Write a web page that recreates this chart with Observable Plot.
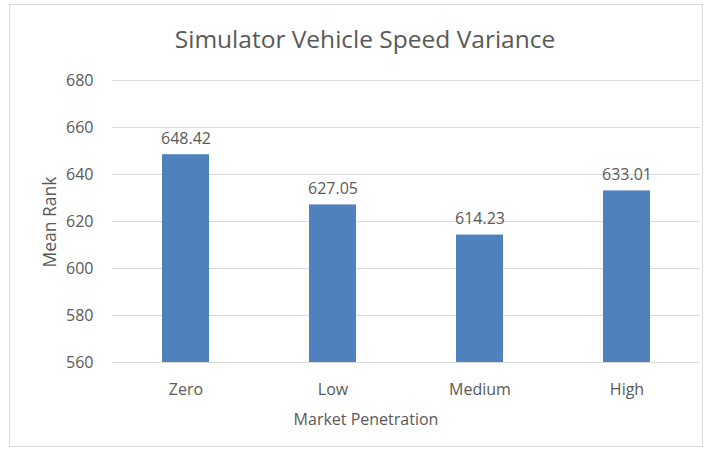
<!DOCTYPE html>
<html>
<head>
<meta charset="utf-8">
<script src="https://cdn.jsdelivr.net/npm/d3@7"></script>
<script src="https://cdn.jsdelivr.net/npm/@observablehq/plot@0.6"></script>
<style>
  html, body { margin: 0; padding: 0; background: #fff; }
  #wrap { position: relative; width: 711px; height: 452px; font-family: "Open Sans", sans-serif; overflow: hidden; color: #595959; }
  #frame { position: absolute; left: 9px; top: 4px; width: 694px; height: 443px; border: 1px solid #d9d9d9; box-sizing: border-box; }
  #title { position: absolute; left: 0; width: 730px; top: 24px; text-align: center; font-size: 24.5px; line-height: 30px; }
  #xtitle { position: absolute; left: 166px; width: 400px; top: 408px; text-align: center; font-size: 16px; line-height: 22px; }
  #ytitle { position: absolute; left: -51px; top: 211px; width: 200px; text-align: center; font-size: 17.5px; line-height: 22px; transform: rotate(-90deg); transform-origin: 100px 11px; }
  #chart { position: absolute; left: 0; top: 0; }
</style>
</head>
<body>
<div id="wrap">
  <div id="frame"></div>
  <div id="chart"></div>
  <div id="title"></div>
  <div id="xtitle"></div>
  <div id="ytitle"></div>
</div>
<script>
const chartTitle = "Simulator Vehicle Speed Variance";
const categories = ["Zero", "Low", "Medium", "High"];
const meanRank = [648.42, 627.05, 614.23, 633.01];
const yTicks = [560, 580, 600, 620, 640, 660, 680];
const xTitle = "Market Penetration";
const yTitle = "Mean Rank";

document.getElementById("title").textContent = chartTitle;
document.getElementById("xtitle").textContent = xTitle;
document.getElementById("ytitle").textContent = yTitle;

const data = categories.map((c, i) => ({category: c, value: meanRank[i]}));

const plot = Plot.plot({
  width: 711,
  height: 452,
  marginLeft: 112,
  marginRight: 11,
  marginTop: 80,
  marginBottom: 90,
  style: {fontFamily: "Open Sans, sans-serif", fontSize: "16px", color: "#595959", background: "transparent", overflow: "visible"},
  x: {domain: categories, paddingInner: 0.68, paddingOuter: 0.34, label: null},
  y: {domain: [560, 680], label: null},
  marks: [
    Plot.ruleY(yTicks, {stroke: "#d9d9d9", strokeWidth: 1}),
    Plot.barY(data, {x: "category", y1: 560, y2: "value", fill: "#4f81bd"}),
    Plot.text(data, {x: "category", y: "value", text: d => d.value.toFixed(2), lineAnchor: "bottom", dy: -11, fill: "#595959", fontSize: 16}),
    Plot.axisY({ticks: yTicks, tickSize: 0, tickPadding: 19, fontSize: 16, fill: "#595959", label: null}),
    Plot.axisX({tickSize: 0, tickPadding: 21, fontSize: 16, fill: "#595959", label: null})
  ]
});
document.getElementById("chart").appendChild(plot);
</script>
</body>
</html>
